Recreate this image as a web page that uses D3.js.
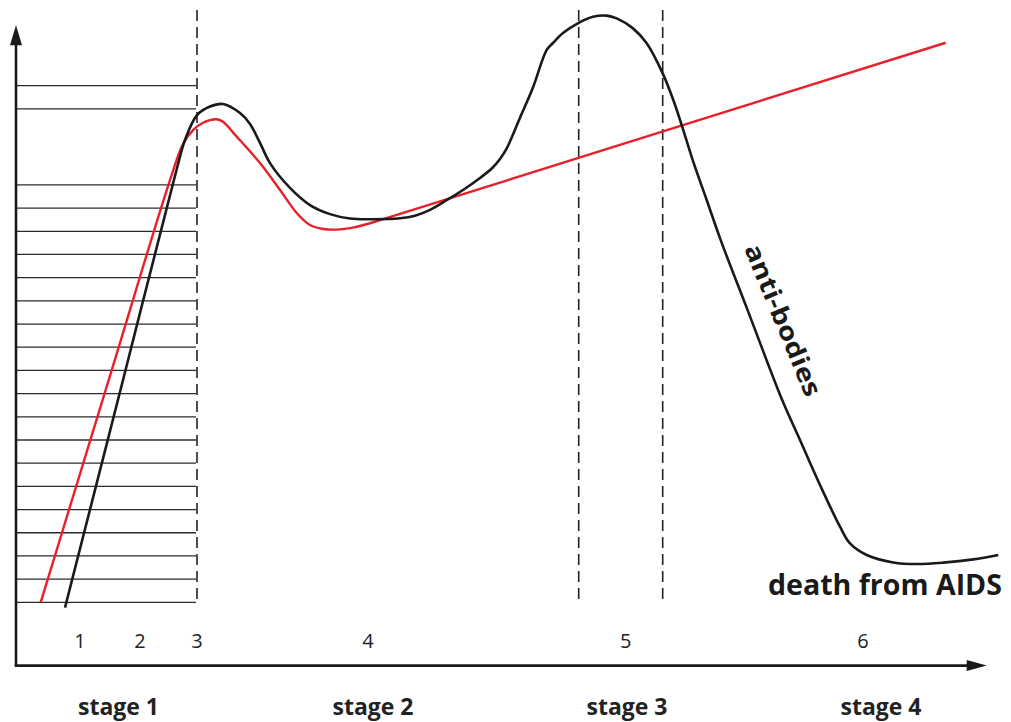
<!DOCTYPE html>
<html>
<head>
<meta charset="utf-8">
<script src="https://cdn.jsdelivr.net/npm/d3@7"></script>
<style>
  html, body { margin: 0; padding: 0; background: #fff; }
  svg { display: block; }
</style>
</head>
<body>
<svg id="chart" width="1011" height="722"></svg>
<script>
// ---- data (x: time units, y: level units = grid spacing) ----
const gridLevels = [0,1,2,3,4,5,6,7,8,9,10,11,12,13,14,15,16,17,18,21.28,22.28];
const gridEnd = 18.0;
const stageBoundaries = [18.1, 56.27, 64.67];
const phaseLabels = ["1","2","3","4","5","6"];
const phaseX = [6.4, 12.4, 18.1, 35.2, 60.97, 84.7];
const stageLabels = ["stage 1","stage 2","stage 3","stage 4"];
const stageX = [10.25, 35.7, 61.1, 86.5];

const antibodiesT = [4.9,10.88,16.1,16.9,18.1,19.4,20.7,22.4,23.4,24.4,25.4,27.4,29.4,31.4,33.4,35.4,38.4,39.9,41.4,43.1,44.7,46.4,47.6,48.4,49.1,50.4,51.7,53.07,53.7,54.7,56.27,57.7,59.07,60.07,61.7,63.07,64.67,65.73,66.57,67.73,69.07,70.47,73.16,76.62,78.4,80.4,82.4,83.4,85.07,87.73,90.07,92.73,95.73,98.23];
const antibodiesV = [-0.23,9.89,18.73,19.94,21.01,21.38,21.49,21.10,20.63,19.81,18.94,17.87,17.13,16.74,16.55,16.52,16.56,16.67,16.92,17.35,17.78,18.30,18.72,19.12,19.60,20.90,22.20,23.82,24.12,24.55,24.99,25.25,25.30,25.18,24.75,24.11,22.81,21.66,20.58,18.99,17.35,15.62,12.60,8.72,7.00,5.06,3.26,2.54,2.04,1.72,1.65,1.71,1.85,2.04];

const virusT = [2.47,9.58,15.4,16.73,17.73,18.7,20.07,20.7,22.07,24.4,26.4,28.07,29.4,30.7,32.4,33.9,35.4,36.4,92.97];
const virusV = [0,10.02,18.21,19.79,20.37,20.68,20.83,20.72,20.08,18.94,17.78,16.79,16.27,16.10,16.08,16.18,16.345,16.48,24.13];

const axisY0 = -2.73;   // level of the time axis
const axisTopY = 24.89; // top of the vertical arrow
const axisEndX = 97.07; // tip of the horizontal arrow
const dashTop = 25.54;

// ---- scales ----
const x = d3.scaleLinear().domain([0, 97]).range([16, 986]);
const y = d3.scaleLinear().domain([0, 18]).range([602.3, 184.9]);

const svg = d3.select("#chart");

// grid lines
svg.append("g").selectAll("line").data(gridLevels).join("line")
  .attr("x1", x(0)).attr("x2", x(gridEnd))
  .attr("y1", d => y(d)).attr("y2", d => y(d))
  .attr("stroke", "#2b2b2b").attr("stroke-width", 1.3);

// dashed stage boundaries
svg.append("g").selectAll("line").data(stageBoundaries).join("line")
  .attr("x1", d => x(d)).attr("x2", d => x(d))
  .attr("y1", y(dashTop)).attr("y2", y(0))
  .attr("stroke", "#222").attr("stroke-width", 1.6)
  .attr("stroke-dasharray", "11,6");

// axes
const axisG = svg.append("g");
axisG.append("line")
  .attr("x1", x(0)).attr("x2", x(0))
  .attr("y1", y(axisY0)).attr("y2", y(axisTopY) + 14)
  .attr("stroke", "#1a1a1a").attr("stroke-width", 2.6);
axisG.append("path")
  .attr("d", `M${x(0)},${y(axisTopY)} L${x(0)-6},${y(axisTopY)+20} L${x(0)+6},${y(axisTopY)+20} Z`)
  .attr("fill", "#1a1a1a");
axisG.append("line")
  .attr("x1", x(0) - 1.3).attr("x2", x(axisEndX) - 14)
  .attr("y1", y(axisY0)).attr("y2", y(axisY0))
  .attr("stroke", "#1a1a1a").attr("stroke-width", 2.6);
axisG.append("path")
  .attr("d", `M${x(axisEndX)},${y(axisY0)} L${x(axisEndX)-20},${y(axisY0)-5.5} L${x(axisEndX)-20},${y(axisY0)+5.5} Z`)
  .attr("fill", "#1a1a1a");

// curves
const line = d3.line().x(d => x(d[0])).y(d => y(d[1])).curve(d3.curveCatmullRom.alpha(0.5));
svg.append("path")
  .attr("d", line(virusT.map((t, i) => [t, virusV[i]])))
  .attr("fill", "none").attr("stroke", "#e8202a").attr("stroke-width", 2.4);
svg.append("path")
  .attr("d", line(antibodiesT.map((t, i) => [t, antibodiesV[i]])))
  .attr("fill", "none").attr("stroke", "#1a1a1a").attr("stroke-width", 2.6);

// phase numbers
svg.append("g").selectAll("text").data(phaseLabels).join("text")
  .attr("x", (d, i) => x(phaseX[i])).attr("y", y(-1.98))
  .attr("text-anchor", "middle")
  .attr("font-family", "'Open Sans', sans-serif").attr("font-size", 20)
  .attr("fill", "#222").text(d => d);

// stage labels
svg.append("g").selectAll("text").data(stageLabels).join("text")
  .attr("x", (d, i) => x(stageX[i])).attr("y", y(-4.84))
  .attr("text-anchor", "middle")
  .attr("font-family", "'Open Sans', sans-serif").attr("font-weight", "bold").attr("font-size", 23)
  .attr("fill", "#222").text(d => d);

// annotations
svg.append("text")
  .attr("x", x(98.6)).attr("y", y(0.31))
  .attr("text-anchor", "end")
  .attr("font-family", "'Open Sans', sans-serif").attr("font-weight", "bold").attr("font-size", 28)
  .attr("textLength", 234).attr("lengthAdjust", "spacingAndGlyphs")
  .attr("fill", "#1a1a1a").text("death from AIDS");

svg.append("text")
  .attr("transform", `translate(${x(76.7)},${y(12.17)}) rotate(67.5)`)
  .attr("text-anchor", "middle").attr("dy", "0.35em")
  .attr("font-family", "'Open Sans', sans-serif").attr("font-weight", "bold").attr("font-size", 25)
  .attr("textLength", 162).attr("lengthAdjust", "spacingAndGlyphs")
  .attr("fill", "#1a1a1a").text("anti-bodies");
</script>
</body>
</html>
